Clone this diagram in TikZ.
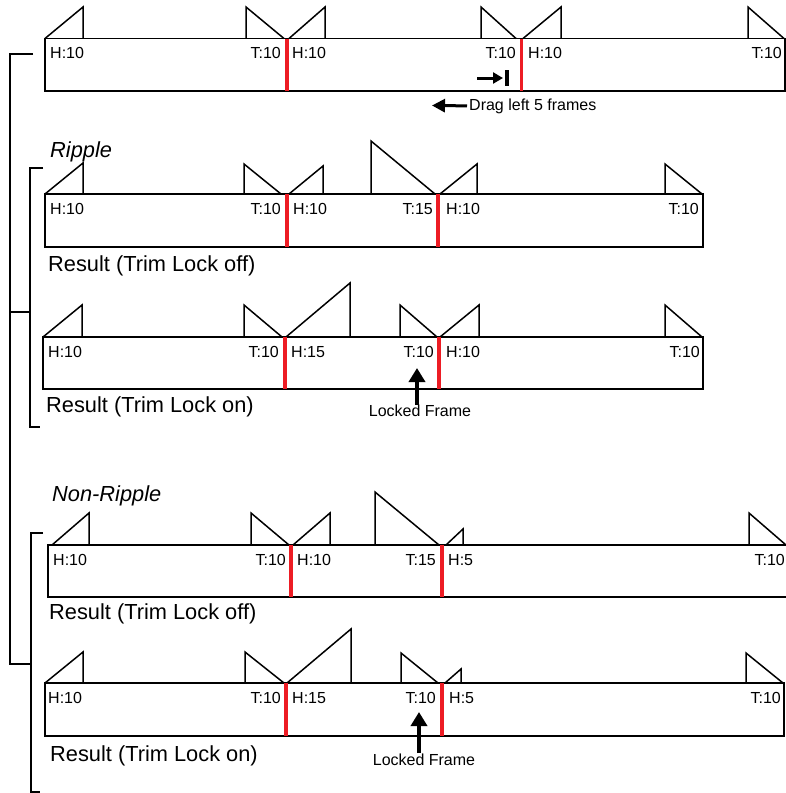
\documentclass[tikz,border=0pt]{standalone}
\usepackage{fontspec}
\setmainfont{Liberation Sans}
\usetikzlibrary{arrows.meta}
\definecolor{cutred}{RGB}{237,28,36}
\tikzset{
  track/.style={draw, line width=1.5pt},
  ramp/.style={line width=1.5pt, line join=miter},
  cut/.style={cutred, line width=3.5pt},
  brk/.style={line width=2.6pt},
  lbl/.style={inner sep=0pt, font=\fontsize{16}{19}\selectfont},
  big/.style={inner sep=0pt, anchor=base west, font=\fontsize{21.8}{26}\selectfont},
  hd/.style={lbl, anchor=base west},
  tl/.style={lbl, anchor=base east},
  push/.style={line width=3.5pt, -{Triangle[width=16pt,length=14pt]}},
}
\begin{document}
\begin{tikzpicture}[x=1pt,y=-1pt]
    \useasboundingbox (0,0) rectangle (786,793);
    % brackets
    \draw[brk] (33,54) -- (10,54) -- (10,664) -- (30,664);
    \draw[brk] (10,312) -- (30,312);
    \draw[brk] (43,168) -- (30,168) -- (30,427) -- (40,427);
    \draw[brk] (43,533) -- (31,533) -- (31,792) -- (40,792);

    % original edit
    \draw[track] (45,38.5) rectangle (785,91);
    \draw[ramp] (45,38.5) -- (83,7) -- (83,38.5);
    \draw[ramp] (246,38.5) -- (246,7) -- (284,38.5); \draw[ramp] (289,38.5) -- (325,7) -- (325,38.5);
    \draw[ramp] (481,38.5) -- (481,7) -- (516,38.5); \draw[ramp] (523,38.5) -- (561,7) -- (561,38.5);
    \draw[ramp] (748,38.5) -- (748,7) -- (784,38.5);
    \draw[cut] (287,38.5) -- (287,91); \draw[cut] (521.5,38.5) -- (521.5,91);
    \node[hd] (h1a) at (50,58.5) {H:10};
    \node[tl] (t1a) at (281,58.5) {T:10}; \node[hd] (h1b) at (292,58.5) {H:10};
    \node[tl] (t1b) at (516,58.5) {T:10}; \node[hd] (h1c) at (528,58.5) {H:10};
    \node[tl] (t1c) at (782,58.5) {T:10};
    \coordinate (mv0) at (477,78); \coordinate (mv1) at (503,78);
    \draw[line width=3pt, -{Triangle[width=11pt,length=10pt]}] (mv0) -- (mv1);
    \draw[line width=4pt] (507,70) -- (507,86);
    \node[lbl, anchor=base west] (drag) at (469,110) {Drag left 5 frames};
    \coordinate (dragtip) at (432,105.5);
    \draw[line width=3pt, -{Triangle[width=13pt,length=13pt]}] (drag.west) ++(-2,0) -- (dragtip);

    % ripple, trim lock off
    \node[big, font=\fontsize{21.8}{26}\selectfont\itshape] (rip) at (50,157) {Ripple};
    \draw[track] (45,194) rectangle (703,247);
    \draw[ramp] (45,194) -- (83,163) -- (83,194);
    \draw[ramp] (244,194) -- (244,164) -- (281,194); \draw[ramp] (289,194) -- (323,166) -- (323,194);
    \draw[ramp] (371,194) -- (371,141) -- (435,194); \draw[ramp] (440,194) -- (477,164) -- (477,194);
    \draw[ramp] (665,194) -- (665,164) -- (702,194);
    \draw[cut] (287,194) -- (287,247); \draw[cut] (438,194) -- (438,247);
    \node[hd] (h2a) at (50,214) {H:10};
    \node[tl] (t2a) at (281,214) {T:10}; \node[hd] (h2b) at (293,214) {H:10};
    \node[tl] (t2b) at (433,214) {T:15}; \node[hd] (h2c) at (446,214) {H:10};
    \node[tl] (t2c) at (699,214) {T:10};
    \node[big] (res2) at (48,271.5) {Result (Trim Lock off)};

    % ripple, trim lock on
    \draw[track] (43,337) rectangle (703,389);
    \draw[ramp] (43,337) -- (82,305) -- (82,337);
    \draw[ramp] (244,337) -- (244,305) -- (282,337); \draw[ramp] (286,337) -- (350,283) -- (350,337);
    \draw[ramp] (400,337) -- (400,305) -- (437,337); \draw[ramp] (440,337) -- (479,305) -- (479,337);
    \draw[ramp] (665,337) -- (665,305) -- (702,337);
    \draw[cut] (285,337) -- (285,389); \draw[cut] (439,337) -- (439,389);
    \node[hd] (h3a) at (48,357) {H:10};
    \node[tl] (t3a) at (279,357) {T:10}; \node[hd] (h3b) at (291,357) {H:15};
    \node[tl] (t3b) at (434,357) {T:10}; \node[hd] (h3c) at (446,357) {H:10};
    \node[tl] (t3c) at (700,357) {T:10};
    \node[big] (res3) at (46,412.5) {Result (Trim Lock on)};
    \node[lbl, anchor=base] (lock3) at (420,416.5) {Locked Frame};
    \coordinate (tip3) at (417,368);
    \draw[push] (lock3.north -| tip3) -- (tip3);

    % non-ripple, trim lock off
    \node[big, font=\fontsize{21.8}{26}\selectfont\itshape] (nrip) at (52,501.5) {Non-Ripple};
    \draw[track] (48,545) rectangle (790,597);
    \draw[ramp] (52,545) -- (89,513) -- (89,545);
    \draw[ramp] (251,545) -- (251,513) -- (289,545); \draw[ramp] (293,545) -- (330,513) -- (330,545);
    \draw[ramp] (375,545) -- (375,492) -- (439,545); \draw[ramp] (446,545) -- (463,529) -- (463,545);
    \draw[ramp] (749,545) -- (749,513) -- (786,545);
    \draw[cut] (291,545) -- (291,597); \draw[cut] (442,545) -- (442,597);
    \node[hd] (h4a) at (53,565) {H:10};
    \node[tl] (t4a) at (286,565) {T:10}; \node[hd] (h4b) at (297,565) {H:10};
    \node[tl] (t4b) at (436,565) {T:15}; \node[hd] (h4c) at (448,565) {H:5};
    \node[tl] (t4c) at (785,565) {T:10};
    \node[big] (res4) at (49,619) {Result (Trim Lock off)};

    % non-ripple, trim lock on
    \draw[track] (45,683) rectangle (784,736);
    \draw[ramp] (45,683) -- (83,652) -- (83,683);
    \draw[ramp] (245,683) -- (245,652) -- (284,683); \draw[ramp] (287,683) -- (351,629) -- (351,683);
    \draw[ramp] (401,683) -- (401,653) -- (438,683); \draw[ramp] (445,683) -- (461,669) -- (461,683);
    \draw[ramp] (746,683) -- (746,653) -- (783,683);
    \draw[cut] (286,683) -- (286,736); \draw[cut] (442,683) -- (442,736);
    \node[hd] (h5a) at (48,703) {H:10};
    \node[tl] (t5a) at (281,703) {T:10}; \node[hd] (h5b) at (292,703) {H:15};
    \node[tl] (t5b) at (436,703) {T:10}; \node[hd] (h5c) at (449,703) {H:5};
    \node[tl] (t5c) at (781,703) {T:10};
    \node[big] (res5) at (50,761.5) {Result (Trim Lock on)};
    \node[lbl, anchor=base] (lock5) at (424,765) {Locked Frame};
    \coordinate (tip5) at (419,712);
    \draw[push] (lock5.north -| tip5) -- (tip5);
\end{tikzpicture}
\end{document}
